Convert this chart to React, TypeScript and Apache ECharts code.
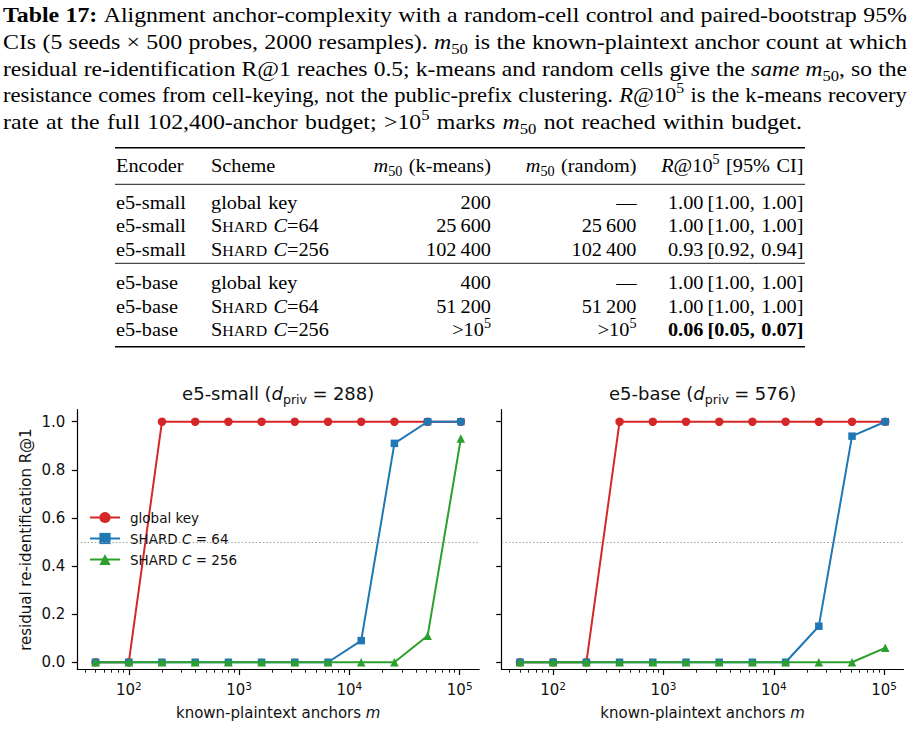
import React, { useEffect, useRef } from "react";
import * as echarts from "echarts";

// ---------------- chart data ----------------
const anchors = [50, 100, 200, 400, 800, 1600, 3200, 6400, 12800, 25600, 51200, 102400];
const schemeNames = ["global key", "SHARD C = 64", "SHARD C = 256"];
const smallGlobalKey = [0, 0, 1, 1, 1, 1, 1, 1, 1, 1, 1, 1];
const smallShard64 = [0, 0, 0, 0, 0, 0, 0, 0, 0.09, 0.91, 1.0, 1.0];
const smallShard256 = [0, 0, 0, 0, 0, 0, 0, 0, 0, 0, 0.11, 0.93];
const baseGlobalKey = [0, 0, 0, 1, 1, 1, 1, 1, 1, 1, 1, 1];
const baseShard64 = [0, 0, 0, 0, 0, 0, 0, 0, 0, 0.15, 0.94, 1.0];
const baseShard256 = [0, 0, 0, 0, 0, 0, 0, 0, 0, 0, 0, 0.06];
const panelEncoders = ["e5-small", "e5-base"];
const panelDPriv = ["288", "576"];
const yTickValues = [0, 0.2, 0.4, 0.6, 0.8, 1.0];
const xTickValues = [100, 1000, 10000, 100000];
const threshold = 0.5;

// ---------------- table data ----------------
const tableHeader = [
  "Encoder",
  "Scheme",
  "{i:m}{sub:50} (k-means)",
  "{i:m}{sub:50} (random)",
  "{i:R}@10{sup:5} [95% CI]",
];
const tableEncoders = ["e5-small", "e5-small", "e5-small", "e5-base", "e5-base", "e5-base"];
const tableSchemes = ["global key", "SHARD C=64", "SHARD C=256", "global key", "SHARD C=64", "SHARD C=256"];
const tableM50KMeans = ["200", "25 600", "102 400", "400", "51 200", ">10^5"];
const tableM50Random = ["—", "25 600", "102 400", "—", "51 200", ">10^5"];
const tableRecall = [1.0, 1.0, 0.93, 1.0, 1.0, 0.06];
const tableCILow = [1.0, 1.0, 0.92, 1.0, 1.0, 0.05];
const tableCIHigh = [1.0, 1.0, 0.94, 1.0, 1.0, 0.07];

const captionLines = [
  "{b:Table} {b:17:} Alignment anchor-complexity with a random-cell control and paired-bootstrap 95%",
  "CIs (5 seeds × 500 probes, 2000 resamples). {i:m}{sub:50} is the known-plaintext anchor count at which",
  "residual re-identification R@1 reaches 0.5; k-means and random cells give the {i:same} {i:m}{sub:50}, so the",
  "resistance comes from cell-keying, not the public-prefix clustering. {i:R}@10{sup:5} is the k-means recovery",
  "rate at the full 102,400-anchor budget; >10{sup:5} marks {i:m}{sub:50} not reached within budget.",
];

// ---------------- layout constants ----------------
const SERIF = '"Liberation Serif", "Times New Roman", serif';
const SANS = '"DejaVu Sans", sans-serif';
const CAP_SIZE = 22;
const CAP_SX = 1.085;
const CAP_MIN_GAP = 0.28;
const CAP_LEFT = 3;
const CAP_RIGHT = 907;
const CAP_BASELINES = [22.7, 49.3, 76, 102.5, 129];
const TAB_SIZE = 19.5;
const TAB_SX = 1.04;
const TAB_BASELINES = [172, 208.5, 232, 255.5, 289, 312.5, 336];
const COLS = [
  { x: 116, align: "left" },
  { x: 211, align: "left" },
  { x: 491, align: "right" },
  { x: 636.5, align: "right" },
  { x: 803.5, align: "right" },
];
const RULES = [
  { y: 147.7, w: 1.5 },
  { y: 184.3, w: 0.9 },
  { y: 263.3, w: 0.9 },
  { y: 346.7, w: 1.5 },
];
const RULE_X1 = 115;
const RULE_X2 = 805;
const MID = 0.34;

const COLORS = ["#d62728", "#1f77b4", "#2ca02c"];
const SYMBOLS = ["circle", "rect", "triangle"];
const SYMBOL_SIZES = [8.5, 7.5, 8.5];

const GRIDS = [
  { left: 77.3, top: 409.7, width: 401.8, height: 259.8 },
  { left: 501.7, top: 409.7, width: 401.8, height: 259.8 },
];
const Y_MIN = -0.03;
const Y_MAX = 1.05;
const LOG_SPAN = Math.log10(anchors[anchors.length - 1] / anchors[0]);
const X_MIN = Math.pow(10, Math.log10(anchors[0]) - 0.05 * LOG_SPAN);
const X_MAX = Math.pow(10, Math.log10(anchors[anchors.length - 1]) + 0.05 * LOG_SPAN);
const TEXT_COLOR = "#111";

type Run = { t: string; k: string };

function parseRuns(s: string): Run[] {
  const out: Run[] = [];
  const re = /\{(\w+):([^}]*)\}|([^{]+)/g;
  let m: RegExpExecArray | null;
  while ((m = re.exec(s))) {
    if (m[1]) out.push({ t: m[2], k: m[1] });
    else out.push({ t: m[3], k: "r" });
  }
  return out;
}
function parseWords(s: string): Run[][] {
  return s
    .split(" ")
    .filter((w) => w.length > 0)
    .map(parseRuns);
}

function runFont(k: string, S: number) {
  const o = { size: S, bold: false, italic: false, dy: 0 };
  if (k === "b") o.bold = true;
  if (k === "i") o.italic = true;
  if (k === "sc") o.size = S * 0.78;
  if (k === "sub") {
    o.size = S * 0.7;
    o.dy = S * 0.22;
  }
  if (k === "sup") {
    o.size = S * 0.7;
    o.dy = -S * 0.42;
  }
  return o;
}

export default function App() {
  const ref = useRef<HTMLDivElement>(null);

  useEffect(() => {
    const el = ref.current!;
    const chart = echarts.init(el, undefined, { renderer: "svg" });
    const canvas = document.createElement("canvas");
    const ctx = canvas.getContext("2d")!;

    const measureRun = (r: Run, S: number, fam: string) => {
      const f = runFont(r.k, S);
      ctx.font = `${f.italic ? "italic " : ""}${f.bold ? "bold " : ""}${f.size}px ${fam}`;
      return ctx.measureText(r.t).width;
    };
    const wordWidth = (w: Run[], S: number, fam: string, sx: number) =>
      w.reduce((a, r) => a + measureRun(r, S, fam) * sx, 0);

    const placeWords = (
      words: Run[][],
      x0: number,
      baseline: number,
      S: number,
      fam: string,
      sx: number,
      gap: number,
      fill: string
    ) => {
      const els: any[] = [];
      let x = x0;
      words.forEach((w) => {
        w.forEach((r) => {
          const f = runFont(r.k, S);
          const wpx = measureRun(r, S, fam) * sx;
          els.push({
            type: "text",
            x,
            y: baseline + f.dy - MID * f.size,
            scaleX: sx,
            silent: true,
            style: {
              text: r.t,
              fontSize: f.size,
              fontFamily: fam,
              fontWeight: f.bold ? "bold" : "normal",
              fontStyle: f.italic ? "italic" : "normal",
              fill,
              align: "left",
              verticalAlign: "middle",
            },
          });
          x += wpx;
        });
        x += gap;
      });
      return els;
    };
    const lineWidthOf = (words: Run[][], S: number, fam: string, sx: number, gap: number) =>
      words.reduce((a, w) => a + wordWidth(w, S, fam, sx), 0) + gap * (words.length - 1);

    const graphics: any[] = [];

    // caption (justified lines; glyph stretch reduced when a line is tight)
    captionLines.forEach((line, li) => {
      const words = parseWords(line);
      const sumW1 = words.reduce((a, w) => a + wordWidth(w, CAP_SIZE, SERIF, 1), 0);
      const nGaps = words.length - 1;
      const avail = CAP_RIGHT - CAP_LEFT;
      const justified = li < captionLines.length - 1;
      let sx = CAP_SX;
      let gap = CAP_SIZE * 0.33;
      if (justified) {
        sx = Math.min(CAP_SX, (avail - CAP_MIN_GAP * CAP_SIZE * nGaps) / sumW1);
        gap = (avail - sumW1 * sx) / nGaps;
      }
      graphics.push(...placeWords(words, CAP_LEFT, CAP_BASELINES[li], CAP_SIZE, SERIF, sx, gap, "#000"));
    });

    // table
    const fmtNum = (s: string) =>
      s === ">10^5" ? ">10{sup:5}" : s.replace(/ /g, "\u2009");
    const fmtScheme = (s: string) => {
      const m = /^SHARD C=(\d+)$/.exec(s);
      return m ? `S{sc:HARD} {i:C}=${m[1]}` : s;
    };
    const rows: string[][] = [tableHeader];
    tableEncoders.forEach((enc, i) => {
      let ci = `${tableRecall[i].toFixed(2)}\u2009[${tableCILow[i].toFixed(2)}, ${tableCIHigh[i].toFixed(2)}]`;
      if (tableRecall[i] < 0.5) ci = ci.split(" ").map((w) => `{b:${w}}`).join(" ");
      rows.push([enc, fmtScheme(tableSchemes[i]), fmtNum(tableM50KMeans[i]), fmtNum(tableM50Random[i]), ci]);
    });
    const tabGap = TAB_SIZE * 0.33;
    rows.forEach((row, ri) => {
      row.forEach((cell, ci) => {
        const words = parseWords(cell);
        const col = COLS[ci];
        const w = lineWidthOf(words, TAB_SIZE, SERIF, TAB_SX, tabGap);
        const x0 = col.align === "left" ? col.x : col.x - w;
        graphics.push(...placeWords(words, x0, TAB_BASELINES[ri], TAB_SIZE, SERIF, TAB_SX, tabGap, "#000"));
      });
    });
    RULES.forEach((r) =>
      graphics.push({
        type: "line",
        silent: true,
        shape: { x1: RULE_X1, y1: r.y, x2: RULE_X2, y2: r.y },
        style: { stroke: "#000", lineWidth: r.w },
      })
    );

    // panel titles
    const TITLE_SIZE = 18;
    panelEncoders.forEach((enc, g) => {
      const words = parseWords(`${enc} ({i:d}{sub:priv} = ${panelDPriv[g]})`);
      const gap = TITLE_SIZE * 0.3;
      const w = lineWidthOf(words, TITLE_SIZE, SANS, 1, gap);
      const cx = GRIDS[g].left + GRIDS[g].width / 2;
      graphics.push(...placeWords(words, cx - w / 2, 400, TITLE_SIZE, SANS, 1, gap, TEXT_COLOR));
    });

    const xMinorTickValues: number[] = [];
    for (let e = 1; e <= 5; e++)
      for (let d = 2; d <= 9; d++) {
        const v = d * Math.pow(10, e);
        if (v > X_MIN && v < X_MAX) xMinorTickValues.push(v);
      }

    const axisLineStyle = { color: "#000", width: 1.2 };
    const xAxes: any[] = [];
    const yAxes: any[] = [];
    const gridOpts: any[] = [];
    const series: any[] = [];
    const panelValues = [
      [smallGlobalKey, smallShard64, smallShard256],
      [baseGlobalKey, baseShard64, baseShard256],
    ];

    GRIDS.forEach((gr, g) => {
      gridOpts.push({ ...gr, containLabel: false });
      xAxes.push({
        gridIndex: g,
        type: "log",
        logBase: 10,
        min: X_MIN,
        max: X_MAX,
        position: "bottom",
        axisLine: { show: true, onZero: false, lineStyle: axisLineStyle },
        axisTick: { show: true, customValues: xTickValues, length: 5.5, lineStyle: axisLineStyle },
        minorTick: { show: false },
        splitLine: { show: false },
        axisLabel: {
          show: true,
          customValues: xTickValues,
          margin: 10.5,
          color: TEXT_COLOR,
          fontSize: 15,
          fontFamily: SANS,
          lineHeight: 20,
          formatter: (v: number) => `10{sup|${Math.round(Math.log10(v))}}`,
          rich: {
            sup: { fontSize: 10.5, fontFamily: SANS, color: TEXT_COLOR, verticalAlign: "top", lineHeight: 20 },
          },
        },
        name: "known-plaintext anchors {i|m}",
        nameLocation: "middle",
        nameGap: 36,
        nameTextStyle: {
          fontSize: 15,
          fontFamily: SANS,
          color: TEXT_COLOR,
          rich: { i: { fontSize: 15, fontFamily: SANS, fontStyle: "italic", color: TEXT_COLOR } },
        },
      });
      xAxes.push({
        gridIndex: g,
        type: "log",
        logBase: 10,
        min: X_MIN,
        max: X_MAX,
        position: "bottom",
        axisLine: { show: false, onZero: false },
        axisTick: { show: true, customValues: xMinorTickValues, length: 3.2, lineStyle: { color: "#000", width: 0.9 } },
        axisLabel: { show: false },
        splitLine: { show: false },
      });
      yAxes.push({
        gridIndex: g,
        type: "value",
        min: Y_MIN,
        max: Y_MAX,
        axisLine: { show: true, onZero: false, lineStyle: axisLineStyle },
        axisTick: { show: true, customValues: yTickValues, length: 5.5, lineStyle: axisLineStyle },
        splitLine: { show: false },
        axisLabel: {
          show: g === 0,
          customValues: yTickValues,
          margin: 12,
          color: TEXT_COLOR,
          fontSize: 15,
          fontFamily: SANS,
          formatter: (v: number) => v.toFixed(1),
        },
        name: g === 0 ? "residual re-identification R@1" : "",
        nameLocation: "middle",
        nameGap: 44,
        nameTextStyle: { fontSize: 15, fontFamily: SANS, color: TEXT_COLOR },
      });
      panelValues[g].forEach((vals, s) => {
        series.push({
          type: "line",
          name: schemeNames[s],
          xAxisIndex: 2 * g,
          yAxisIndex: g,
          data: anchors.map((a, i) => [a, vals[i]]),
          symbol: SYMBOLS[s],
          symbolSize: SYMBOL_SIZES[s],
          showSymbol: true,
          showAllSymbol: true,
          lineStyle: { color: COLORS[s], width: 2 },
          itemStyle: { color: COLORS[s] },
          z: 2 + s,
          markLine:
            s === 0
              ? {
                  silent: true,
                  symbol: ["none", "none"],
                  label: { show: false },
                  lineStyle: { color: "#a0a0a0", type: [1.5, 2], width: 1 },
                  data: [{ yAxis: threshold }],
                }
              : undefined,
        });
      });
    });

    const option: any = {
      animation: false,
      backgroundColor: "#fff",
      grid: gridOpts,
      xAxis: xAxes,
      yAxis: yAxes,
      series,
      legend: {
        show: true,
        orient: "vertical",
        left: 89,
        top: 510.5,
        padding: 0,
        itemWidth: 30,
        itemHeight: 14,
        itemGap: 7,
        data: schemeNames,
        formatter: (n: string) => n.replace(" C ", " {i|C} "),
        textStyle: {
          fontSize: 13.5,
          fontFamily: SANS,
          color: TEXT_COLOR,
          padding: [0, 0, 0, 5],
          rich: { i: { fontSize: 13.5, fontFamily: SANS, fontStyle: "italic", color: TEXT_COLOR } },
        },
      },
      graphic: graphics,
    };
    chart.setOption(option);
    return () => chart.dispose();
  }, []);

  return (
    <div
      ref={ref}
      style={{ position: "absolute", left: 0, top: 0, width: 921, height: 729, background: "#fff" }}
    />
  );
}
